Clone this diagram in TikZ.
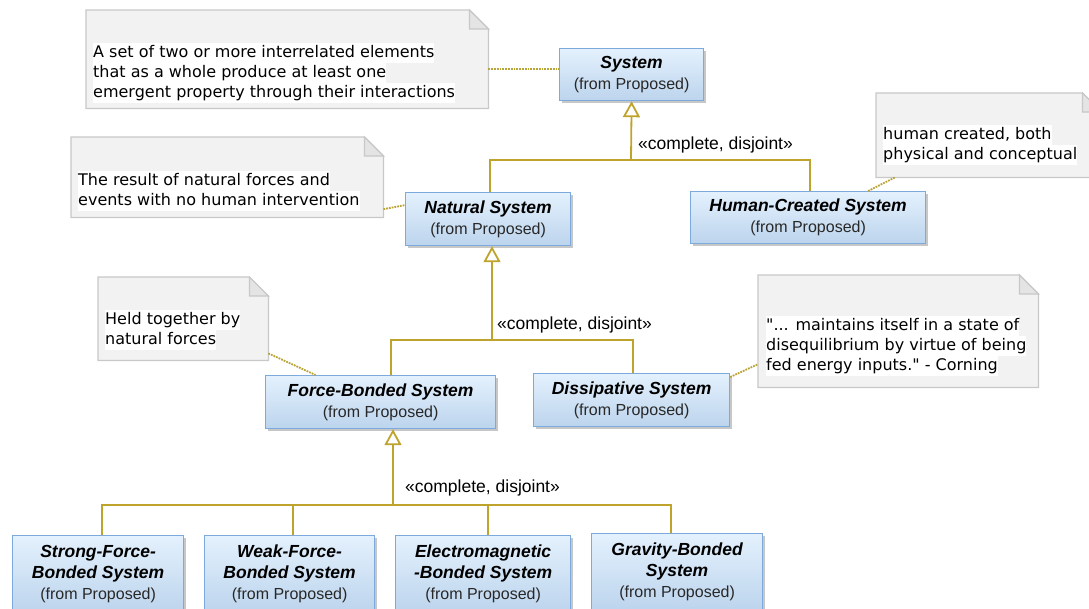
\documentclass[tikz,border=0pt]{standalone}
\usepackage{fontspec}
\setmainfont{Liberation Sans}
\newfontfamily\notefont{DejaVu Sans}
\usetikzlibrary{arrows.meta,shadows,calc}
\definecolor{clstop}{RGB}{228,241,253}
\definecolor{clsbot}{RGB}{188,212,237}
\definecolor{clsbd}{RGB}{125,170,220}
\definecolor{genc}{RGB}{190,163,45}
\definecolor{linkc}{RGB}{185,165,55}
\definecolor{notefill}{RGB}{242,242,242}
\definecolor{notebd}{RGB}{200,200,200}
\definecolor{foldc}{RGB}{228,228,228}
\definecolor{subc}{RGB}{40,40,40}
\newcommand\hlline[1]{{\setlength{\fboxsep}{0pt}\colorbox{white}{\strut #1}}}
\newcommand\cname[1]{{\fontsize{17.5}{21}\selectfont\bfseries\itshape #1}}
\newcommand\fromp{{\color{subc}(from Proposed)}}
\newcommand\notedraw[1]{%
  \filldraw[fill=notefill, draw=notebd, line width=1.2pt]
    (#1.north west) -- ([xshift=-19pt]#1.north east) -- ([yshift=-19pt]#1.north east)
    -- (#1.south east) -- (#1.south west) -- cycle;
  \filldraw[fill=foldc, draw=notebd, line width=1.2pt]
    ([xshift=-19pt]#1.north east) -- ([xshift=-19pt,yshift=-19pt]#1.north east)
    -- ([yshift=-19pt]#1.north east) -- cycle;}
\tikzset{
  cls/.style={draw=clsbd, line width=1.2pt, top color=clstop, bottom color=clsbot,
    drop shadow={shadow xshift=2pt, shadow yshift=-2pt, fill=black, opacity=0.22},
    anchor=north west, align=center, inner sep=0pt,
    font=\fontsize{16}{21}\selectfont},
  noteframe/.style={anchor=north west, inner sep=0pt},
  notetext/.style={anchor=west, align=left, inner sep=0pt,
    font=\notefont\fontsize{16}{20}\selectfont},
  gen/.style={draw=genc, line width=1.8pt},
  gentip/.style={gen, -{Triangle[width=17pt,length=16pt,fill=white]}},
  notelink/.style={draw=linkc, line width=1.8pt, densely dotted},
  lbl/.style={anchor=west, inner sep=0pt, font=\fontsize{17.5}{20}\selectfont}
}
\begin{document}
\begin{tikzpicture}[x=1pt,y=-1pt]
\useasboundingbox (0,0) rectangle (1089,608);
\clip (0,0) rectangle (1089,608);

% notes
\node[noteframe, minimum width=402, minimum height=98] (n1) at (86,10) {};
\notedraw{n1}
\node[notetext] (t1) at (93,73) {\hlline{A set of two or more interrelated elements}\\\hlline{that as a whole produce at least one}\\\hlline{emergent property through their interactions}};

\node[noteframe, minimum width=312, minimum height=80] (n2) at (71,137) {};
\notedraw{n2}
\node[notetext] (t2) at (78,191) {\hlline{The result of natural forces and}\\\hlline{events with no human intervention}};

\node[noteframe, minimum width=170, minimum height=83] (n3) at (98,277) {};
\notedraw{n3}
\node[notetext] (t3) at (105,330) {\hlline{Held together by}\\\hlline{natural forces}};

\node[noteframe, minimum width=225, minimum height=84] (n4) at (876,93) {};
\notedraw{n4}
\node[notetext] (t4) at (883,145) {\hlline{human created, both}\\\hlline{physical and conceptual}};

\node[noteframe, minimum width=280, minimum height=112] (n5) at (758,275) {};
\notedraw{n5}
\node[notetext] (t5) at (766,346) {\hlline{"... maintains itself in a state of}\\\hlline{disequilibrium by virtue of being}\\\hlline{fed energy inputs." - Corning}};

% classes
\node[cls, minimum width=144, minimum height=52] (sys) at (559,48) {\cname{System}\\\fromp};
\node[cls, minimum width=165, minimum height=53] (nat) at (405,192) {\cname{Natural System}\\\fromp};
\node[cls, minimum width=235, minimum height=52] (hum) at (690,191) {\cname{Human-Created System}\\\fromp};
\node[cls, minimum width=230, minimum height=53] (force) at (265,375) {\cname{Force-Bonded System}\\\fromp};
\node[cls, minimum width=196, minimum height=53] (diss) at (533,373) {\cname{Dissipative System}\\\fromp};
\node[cls, minimum width=171, minimum height=77] (strong) at (12,535) {\cname{Strong-Force-}\\\cname{Bonded System}\\\fromp};
\node[cls, minimum width=170, minimum height=77] (weak) at (204,535) {\cname{Weak-Force-}\\\cname{Bonded System}\\\fromp};
\node[cls, minimum width=175, minimum height=77] (em) at (395,535) {\cname{Electromagnetic}\\\cname{-Bonded System}\\\fromp};
\node[cls, minimum width=171, minimum height=77] (grav) at (591,533) {\cname{Gravity-Bonded}\\\cname{System}\\\fromp};

% generalizations
\coordinate (j1) at (631,160);
\draw[gen] ([xshift=2pt]nat.north) |- (j1) -| ([xshift=2pt]hum.north);
\draw[gentip] (j1) -- (sys.south);
\node[lbl] (l1) at (638,145) {«complete, disjoint»};

\coordinate (j2) at (492,340);
\draw[gen] ([xshift=10pt]force.north) |- (j2) -| ([xshift=1pt]diss.north);
\draw[gentip] (j2) -- (j2 |- nat.south);
\node[lbl] (l2) at (497,325) {«complete, disjoint»};

\coordinate (j3) at (393,505);
\draw[gen] ([xshift=3.5pt]strong.north) |- (j3);
\draw[gen] ([xshift=3pt]weak.north) |- (j3);
\draw[gen] ([xshift=4.5pt]em.north) |- (j3);
\draw[gen] ([xshift=-6.5pt]grav.north) |- (j3);
\draw[gentip] (j3) -- (j3 |- force.south);
\node[lbl] (l3) at (405,488) {«complete, disjoint»};

% note links
\coordinate (s1) at ([yshift=6pt]sys.west);
\draw[notelink] (s1 -| n1.east) -- (s1);
\draw[notelink] ([yshift=-32pt]n2.east) -- ([yshift=14pt]nat.west);
\draw[notelink] ([yshift=7pt]n3.south east) -- ([xshift=-65pt]force.north);
\draw[notelink] ([xshift=60pt]hum.north) -- ([xshift=19pt]n4.south west);
\draw[notelink] ([yshift=-4pt]diss.north east) -- ([yshift=-33pt]n5.west);
\end{tikzpicture}
\end{document}
